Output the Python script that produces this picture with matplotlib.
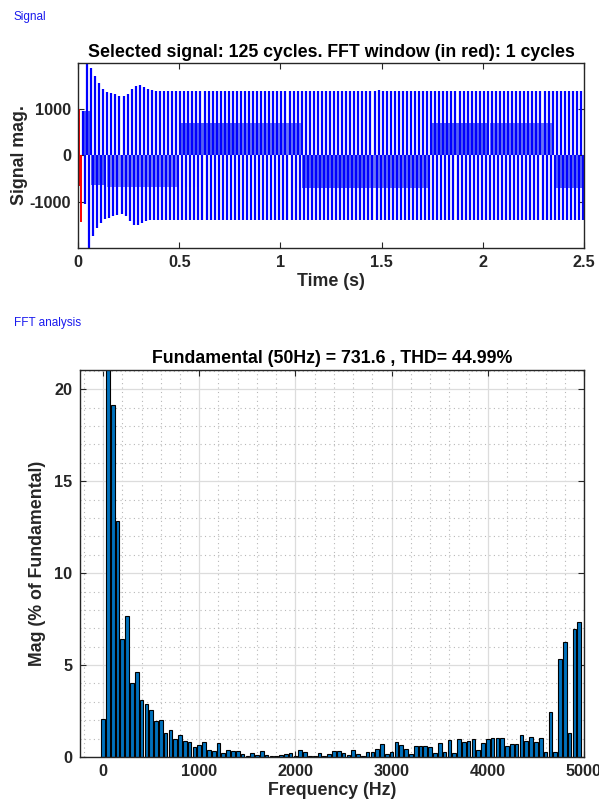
import numpy as np
import matplotlib
matplotlib.use("Agg")
import matplotlib.pyplot as plt
from matplotlib.ticker import MultipleLocator

plt.rcParams['font.family'] = ['Liberation Sans', 'DejaVu Sans']
plt.rcParams['axes.unicode_minus'] = False

# ---------------- time-domain signal (50 Hz, 125 cycles) ----------------
f0 = 50.0
n_cycles = 125
# positive / negative peak of each cycle during the start-up transient
pos_peak_start = [1000, 960, 2100, 1890, 1720, 1560, 1440, 1380, 1350, 1320,
                  1290, 1280, 1330, 1430, 1500, 1525, 1490, 1445, 1410, 1395]
neg_peak_start = [-1440, -1050, -2100, -1740, -1560, -1455, -1380, -1345, -1310,
                  -1290, -1275, -1310, -1420, -1510, -1510, -1455, -1420, -1400]
pos_peak_steady = 1385
neg_peak_steady = -1395
# a few cycles in steady state that peak slightly higher
pos_peak_extra = {74: 1420, 101: 1405}

# inner bands of the waveform: start (s), end (s), level
band_start = [0.018, 0.065, 0.145, 0.50, 0.79, 1.105, 1.42, 1.745, 2.035, 2.35]
band_end = [0.060, 0.135, 0.500, 0.78, 1.105, 1.415, 1.735, 2.03, 2.35, 2.50]
band_level = [960, -640, -690, 700, 700, -710, -710, 700, 700, -710]
band_color = ['#4856f3', '#5663f3', '#8289f6', '#5561f3', '#6c76f5',
              '#5a66f3', '#6a74f5', '#5561f3', '#6a74f5', '#5f6af4']

# ---------------- FFT spectrum (0 .. 4950 Hz, 50 Hz steps) ----------------
harm_freq = np.arange(0, 5000, 50)
harm_mag = [2.05, 100.0, 19.15, 12.85, 6.42, 7.68, 4.05, 4.63, 3.09, 2.87,
            2.58, 1.94, 2.00, 1.32, 1.49, 0.96, 1.18, 0.87, 0.80, 0.53,
            0.66, 0.80, 0.38, 0.30, 0.74, 0.24, 0.38, 0.31, 0.31, 0.16,
            0.05, 0.24, 0.10, 0.31, 0.09, 0.07, 0.07, 0.10, 0.15, 0.24,
            0.07, 0.38, 0.27, 0.07, 0.05, 0.24, 0.07, 0.15, 0.31, 0.31,
            0.24, 0.12, 0.38, 0.15, 0.07, 0.29, 0.29, 0.44, 0.70, 0.15,
            0.27, 0.82, 0.67, 0.44, 0.15, 0.60, 0.60, 0.60, 0.53, 0.22,
            0.74, 0.29, 0.90, 0.24, 0.96, 0.80, 0.85, 0.96, 0.38, 0.74,
            0.96, 1.04, 1.04, 1.04, 0.60, 0.68, 0.68, 1.20, 0.89, 1.10,
            0.80, 1.03, 0.29, 2.46, 0.29, 5.34, 6.28, 1.28, 6.97, 7.33]
fundamental = 731.6
thd = 44.99

# ---------------- figure ----------------
fig = plt.figure(figsize=(5.99, 8.09), dpi=100)
axis_color = '#262626'
label_size = 12.8
tick_size = 11.7

fig.text(14 / 599, 1 - 17 / 809, 'Signal', color='#1a1aee', fontsize=8.5,
         va='center', ha='left')
fig.text(14 / 599, 1 - 323 / 809, 'FFT analysis', color='#1a1aee', fontsize=8.5,
         va='center', ha='left')

# --- signal axes ---
ax1 = fig.add_axes([78 / 599, 1 - 248 / 809, 506 / 599, 185 / 809])
period = 1.0 / f0
k = np.arange(n_cycles)
pos = np.full(n_cycles, float(pos_peak_steady))
pos[:len(pos_peak_start)] = pos_peak_start
for i, v in pos_peak_extra.items():
    pos[i] = v
neg = np.full(n_cycles, float(neg_peak_steady))
neg[:len(neg_peak_start)] = neg_peak_start
t_pos = k * period + period / 4
t_neg = k * period + 3 * period / 4

for s, e, lev, c in zip(band_start, band_end, band_level, band_color):
    ax1.fill_between([s, e], 0, lev, color=c, lw=0, zorder=1)
ax1.vlines(t_pos[1:], 0, pos[1:], color='#0000ff', lw=1.6, zorder=2)
ax1.vlines(t_neg[1:], neg[1:], 0, color='#0000ff', lw=1.6, zorder=2)
# first cycle = FFT window
ax1.fill_between([0.0, period * 0.5], -650, 800, color='red', lw=0, zorder=3)
ax1.vlines([t_pos[0]], 0, pos[0], color='red', lw=1.4, zorder=3)
ax1.vlines([t_neg[0]], neg[0], 0, color='red', lw=1.4, zorder=3)

ax1.set_xlim(0, 2.5)
ax1.set_ylim(-2000, 2000)
ax1.set_xticks([0, 0.5, 1, 1.5, 2, 2.5])
ax1.set_xticklabels(['0', '0.5', '1', '1.5', '2', '2.5'])
ax1.set_yticks([-1000, 0, 1000])
ax1.set_yticklabels(['-1000', '0', '1000'])
ax1.set_title('Selected signal: 125 cycles. FFT window (in red): 1 cycles',
              fontsize=label_size, fontweight='bold', color='black', pad=4)
ax1.set_xlabel('Time (s)', fontsize=label_size, fontweight='bold',
               color=axis_color, labelpad=2)
ax1.set_ylabel('Signal mag.', fontsize=label_size, fontweight='bold',
               color=axis_color, labelpad=1)

# --- spectrum axes ---
ax2 = fig.add_axes([79.5 / 599, 1 - 757 / 809, 504.5 / 599, 387 / 809])
ax2.bar(harm_freq, harm_mag, width=38, color='#0072BD', edgecolor='black',
        linewidth=0.8, zorder=3)
ax2.set_xlim(-245, 5000)
ax2.set_ylim(0, 21.05)
ax2.xaxis.set_major_locator(MultipleLocator(1000))
ax2.xaxis.set_minor_locator(MultipleLocator(200))
ax2.yaxis.set_major_locator(MultipleLocator(5))
ax2.yaxis.set_minor_locator(MultipleLocator(1))
ax2.grid(which='major', color='#dcdcdc', lw=0.9, ls='-', zorder=0)
ax2.grid(which='minor', color='#b8b8b8', lw=0.8, ls=(0, (1, 3)), zorder=0)
ax2.set_axisbelow(True)
ax2.set_title('Fundamental (50Hz) = %.1f , THD= %.2f%%' % (fundamental, thd),
              fontsize=label_size, fontweight='bold', color='black', pad=5)
ax2.set_xlabel('Frequency (Hz)', fontsize=label_size, fontweight='bold',
               color=axis_color, labelpad=2)
ax2.set_ylabel('Mag (% of Fundamental)', fontsize=label_size, fontweight='bold',
               color=axis_color, labelpad=6)

for ax in (ax1, ax2):
    for sp in ax.spines.values():
        sp.set_color(axis_color)
        sp.set_linewidth(1.0)
        sp.set_zorder(5)
    ax.tick_params(which='major', direction='in', top=True, right=True,
                   length=4, width=0.8, color=axis_color, labelsize=tick_size,
                   labelcolor=axis_color, pad=5)
    ax.tick_params(which='minor', length=0)
    for lbl in ax.get_xticklabels() + ax.get_yticklabels():
        lbl.set_fontweight('bold')

fig.savefig('out.png', dpi=100)
